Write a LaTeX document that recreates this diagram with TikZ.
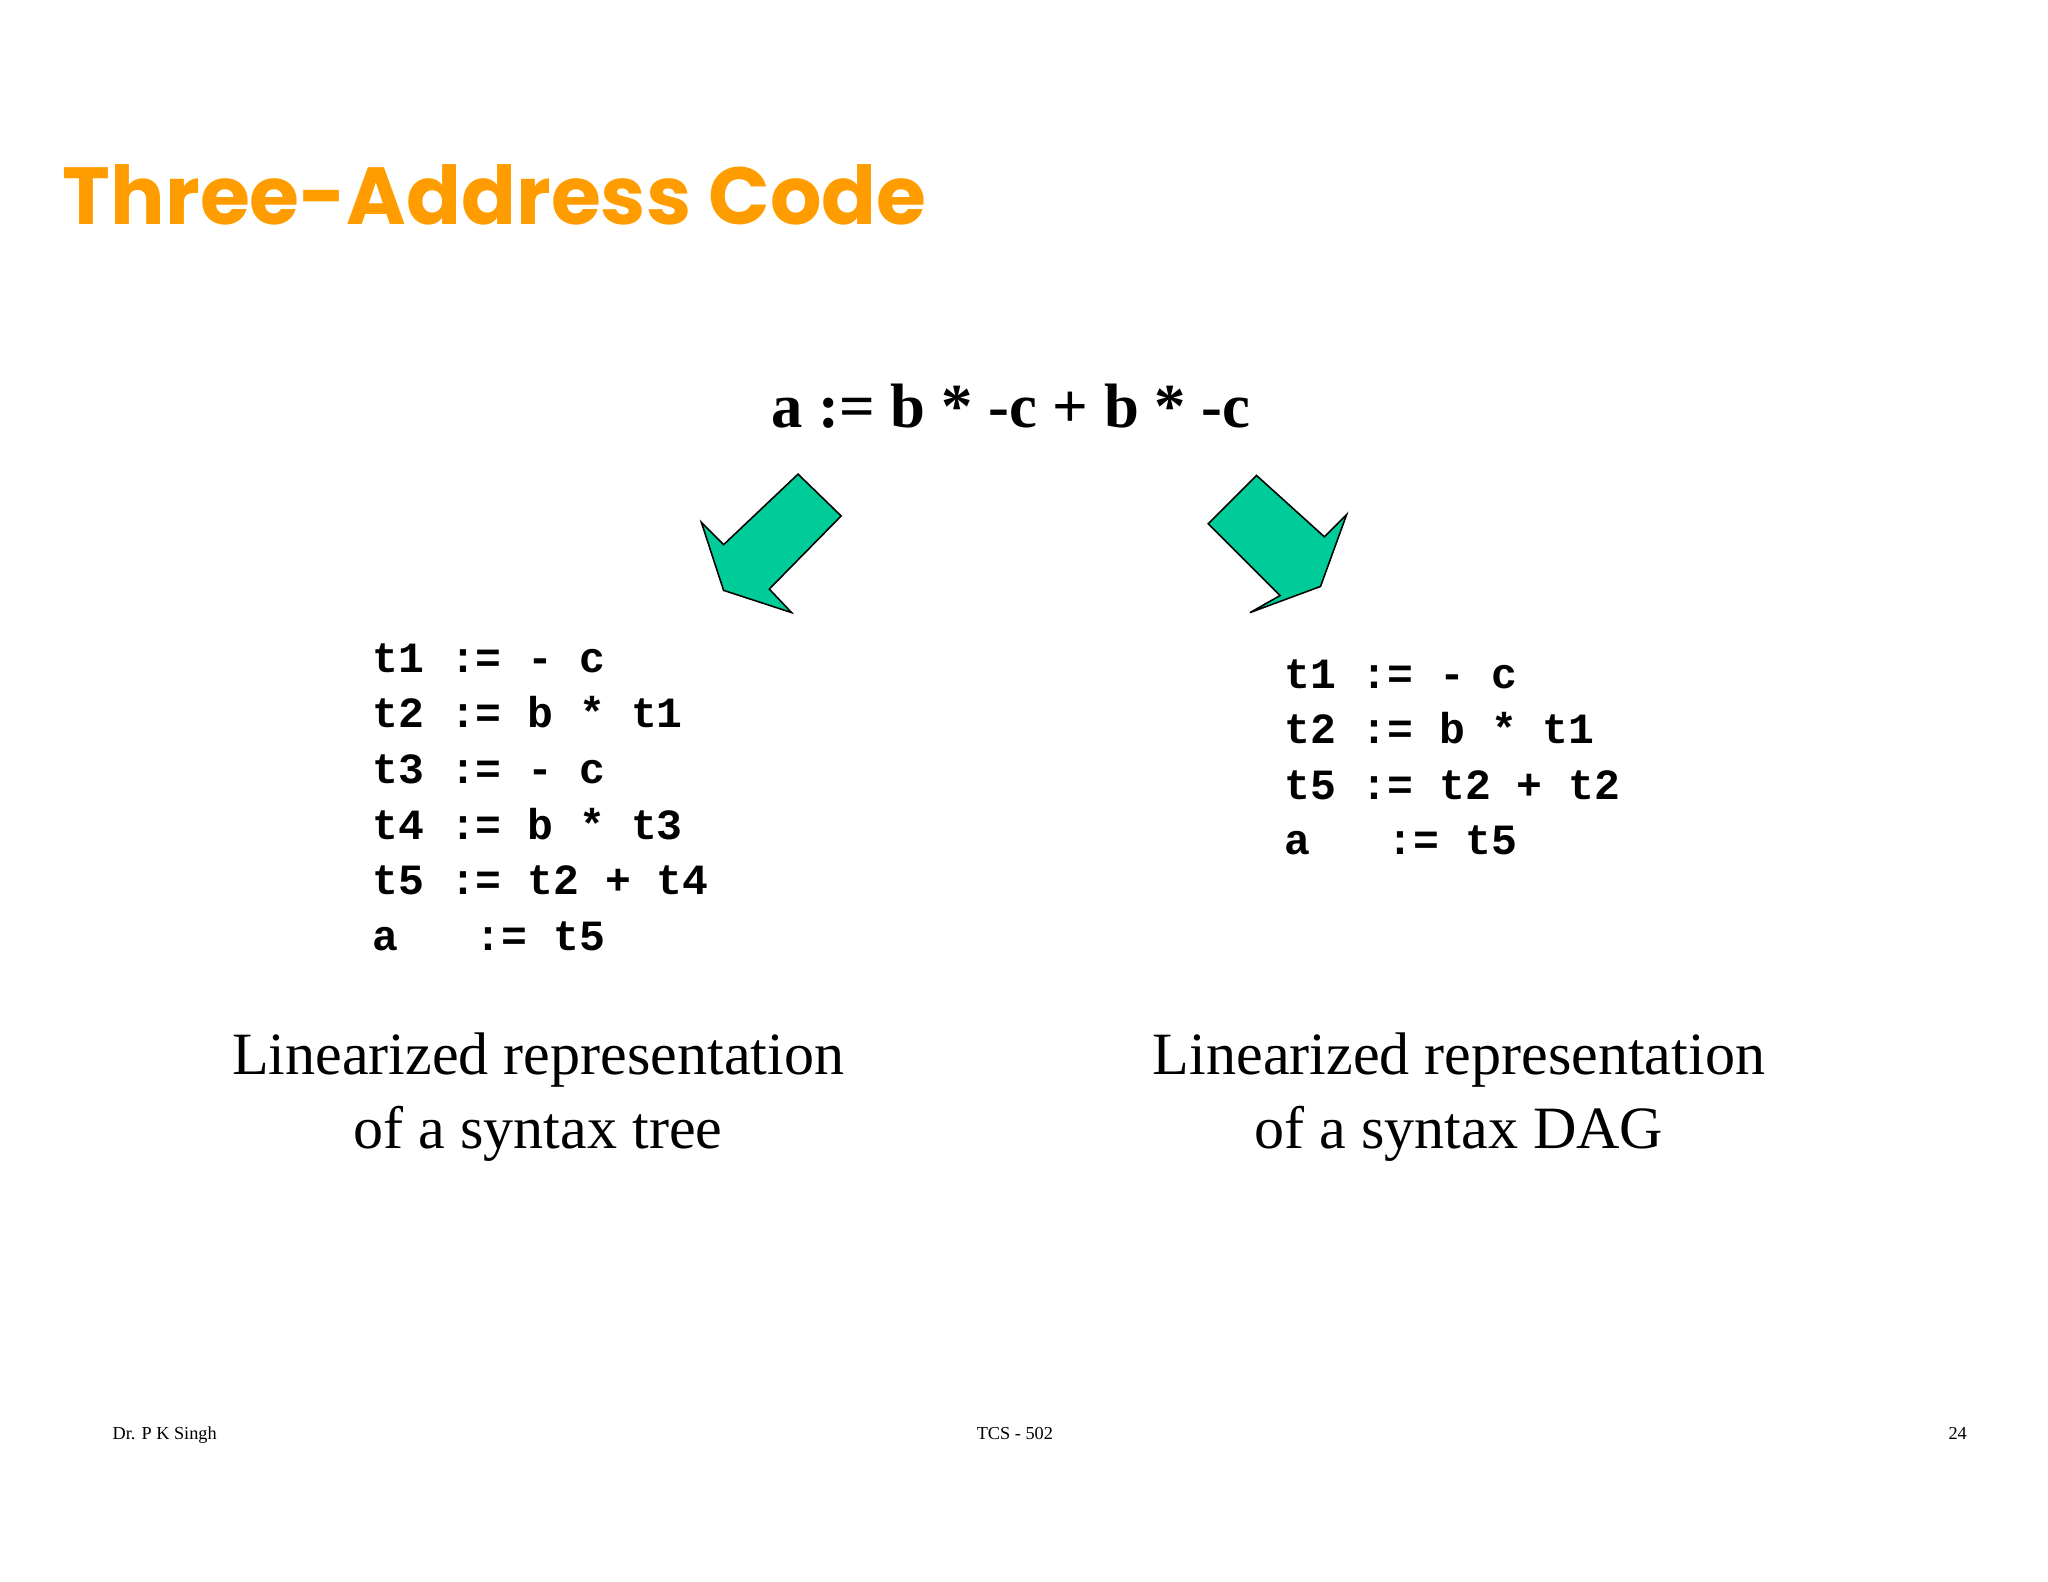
\documentclass[tikz,border=0pt]{standalone}
\usepackage{fontspec}
\setmainfont{Liberation Serif}
\newfontfamily\codefont{Liberation Mono}
\newfontfamily\titlefont{Poppins}
\definecolor{ttl}{HTML}{FF9C00}
\definecolor{arr}{HTML}{00CC99}
\begin{document}
\begin{tikzpicture}[x=1pt,y=-1pt,
  code/.style={anchor=base west,inner sep=0pt,font=\codefont\bfseries\fontsize{33}{33}\selectfont},
  captext/.style={align=center,inner sep=0pt,font=\fontsize{46}{56}\selectfont},
  foot/.style={inner sep=0pt,font=\fontsize{14}{14}\selectfont},
  bigarrow/.style={fill=arr,draw=black,line width=1.2pt,line join=miter}]
\useasboundingbox (0,0) rectangle (1568,1211);
\node[anchor=base west,inner sep=0pt,text=ttl,font=\titlefont\bfseries\fontsize{62}{62}\selectfont] (title) at (48,172) {Three-Address Code};
\node[anchor=base,inner sep=0pt,font=\bfseries\fontsize{48}{48}\selectfont] (expr) at (774,327) {a := b * -c + b * -c};
\draw[bigarrow] (611,363) -- (644,395) -- (589,451) -- (606,469) -- (554,452) -- (537,400) -- (554,417) -- cycle;
\draw[bigarrow] (962,364) -- (925,401) -- (980,456) -- (957,469) -- (1011,449) -- (1031,394) -- (1014,411) -- cycle;
\node[code] (l1) at (285,515) {t1 := - c};
\node[code] (l2) at (285,557) {t2 := b * t1};
\node[code] (l3) at (285,600) {t3 := - c};
\node[code] (l4) at (285,643) {t4 := b * t3};
\node[code] (l5) at (285,685) {t5 := t2 + t4};
\node[code] (l6) at (285,728) {a\ \ \ := t5};
\node[code] (r1) at (983,527) {t1 := - c};
\node[code] (r2) at (983,569) {t2 := b * t1};
\node[code] (r3) at (983,612) {t5 := t2 + t2};
\node[code] (r4) at (983,654) {a\ \ \ := t5};
\node[captext] (c1) at (412,840) {Linearized representation\\of a syntax tree};
\node[captext] (c2) at (1117,840) {Linearized representation\\of a syntax DAG};
\node[foot,anchor=base west] (f1) at (86,1102) {Dr. P K Singh};
\node[foot,anchor=base] (f2) at (777,1102) {TCS - 502};
\node[foot,anchor=base east] (f3) at (1506,1102) {24};
\end{tikzpicture}
\end{document}
